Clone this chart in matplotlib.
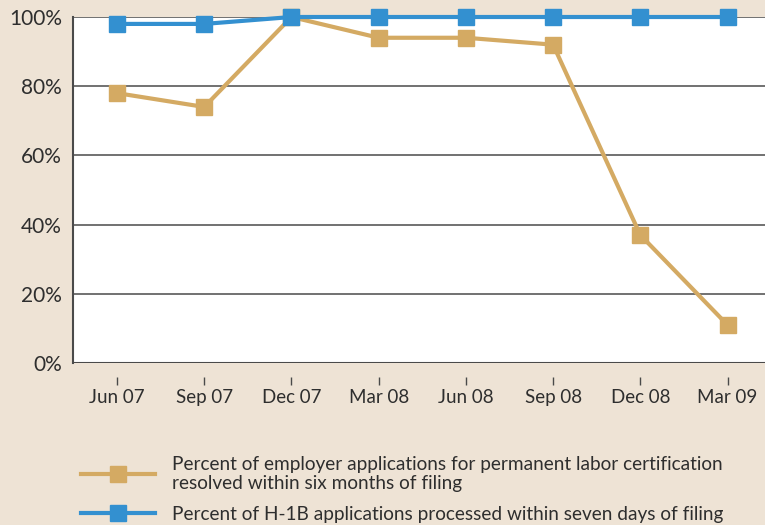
import matplotlib.pyplot as plt

# ── Data ─────────────────────────────────────────────────────
quarters = ["Jun 07", "Sep 07", "Dec 07", "Mar 08", "Jun 08", "Sep 08", "Dec 08", "Mar 09"]
perm_labor = [78, 74, 100, 94, 94, 92, 37, 11]
h1b = [98, 98, 100, 100, 100, 100, 100, 100]
y_ticks = [0, 20, 40, 60, 80, 100]

BG = "#EEE3D5"
TAN = "#D4AA63"
BLUE = "#3390D0"
GRID = "#4a4a4a"
TEXT = "#2e2e2e"

plt.rcParams["font.family"] = ["Lato", "DejaVu Sans"]

fig = plt.figure(figsize=(7.65, 5.25), dpi=100, facecolor=BG)
ax = fig.add_axes([73 / 765, 1 - 363 / 525, 1 - 73 / 765, 346 / 525])
ax.set_facecolor("white")

x = list(range(len(quarters)))
ax.plot(x, perm_labor, color=TAN, linewidth=3, marker="s", markersize=12,
        clip_on=False, zorder=3,
        label="Percent of employer applications for permanent labor certification\n"
              "resolved within six months of filing")
ax.plot(x, h1b, color=BLUE, linewidth=3, marker="s", markersize=12,
        clip_on=False, zorder=4,
        label="Percent of H-1B applications processed within seven days of filing")

for v in y_ticks[1:]:
    ax.axhline(v, color=GRID, linewidth=1.1, zorder=1)
ax.axhline(0, color=GRID, linewidth=1.5, zorder=2)

for side in ["top", "right"]:
    ax.spines[side].set_visible(False)
ax.spines["left"].set_color(GRID)
ax.spines["left"].set_linewidth(1.5)
# bottom ticks sit a little below the axis line
ax.spines["bottom"].set_position(("outward", 10))
ax.spines["bottom"].set_color("none")

ax.set_xlim(-0.505, 7.43)
ax.set_ylim(0, 100)
ax.set_yticks(y_ticks)
ax.set_yticklabels([f"{v}%" for v in y_ticks])
ax.set_xticks(x)
ax.set_xticklabels(quarters)
ax.tick_params(axis="y", length=0, pad=8, labelsize=15, labelcolor=TEXT)
ax.tick_params(axis="x", length=6, width=1, color=GRID, pad=3,
               labelsize=13.5, labelcolor=TEXT)

fig.legend(loc="upper left", bbox_to_anchor=(71 / 765, 1 - 446 / 525),
           frameon=False, fontsize=13.7, handlelength=3.9, handletextpad=0.9,
           labelspacing=0.7, borderpad=0, labelcolor=TEXT)

plt.savefig("out.png", dpi=100, facecolor=BG)
